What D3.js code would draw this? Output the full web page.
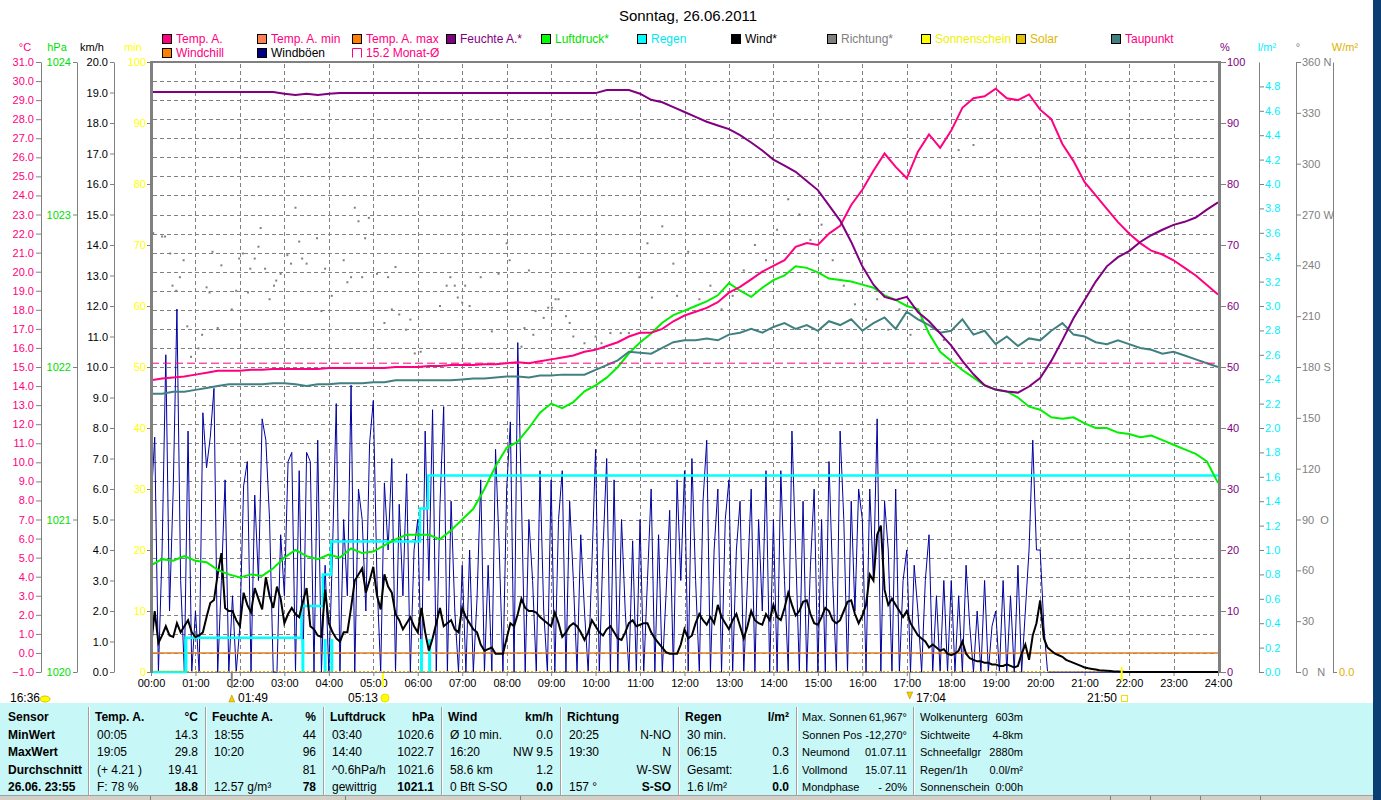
<!DOCTYPE html>
<html>
<head>
<meta charset="UTF-8">
<title>Sonntag, 26.06.2011</title>
<script src="https://d3js.org/d3.v7.min.js"></script>
<style>
  body { margin: 0; background: #fff; }
  svg { display: block; font-family: "Liberation Sans", Arial, sans-serif; }
</style>
</head>
<body>
<svg width="1381" height="800"></svg>
<script>
// ---------- data ----------
var hourLabels = ["00:00","01:00","02:00","03:00","04:00","05:00","06:00","07:00","08:00","09:00","10:00","11:00",
  "12:00","13:00","14:00","15:00","16:00","17:00","18:00","19:00","20:00","21:00","22:00","23:00","24:00"];

// 15-minute values, 00:00 .. 24:00
var tempA = [
  14.3,14.4,14.45,14.5,14.6,14.7,14.8,14.8,14.8,14.85,14.85,14.9,
  14.9,14.9,14.9,14.9,14.95,14.95,14.95,14.95,14.95,14.95,15.0,15.0,
  15.0,15.05,15.05,15.1,15.1,15.1,15.15,15.15,15.2,15.25,15.2,15.3,
  15.4,15.5,15.6,15.8,15.9,16.1,16.3,16.6,16.8,16.8,17.0,17.4,
  17.7,17.9,18.1,18.4,18.9,19.2,19.6,20.0,20.3,20.6,21.3,21.5,
  21.4,22.0,22.4,23.5,24.3,25.3,26.2,25.5,24.9,26.3,27.2,26.5,
  27.4,28.6,29.1,29.2,29.6,29.1,29.0,29.3,28.5,28.0,26.7,25.8,
  24.7,24.0,23.3,22.6,22.0,21.5,21.1,20.9,20.6,20.2,19.8,19.3,18.8];

var taupunkt = [
  13.6,13.6,13.7,13.7,13.8,13.9,14.0,14.1,14.1,14.1,14.1,14.15,
  14.15,14.1,14.0,14.1,14.1,14.15,14.15,14.15,14.2,14.2,14.3,14.3,
  14.3,14.3,14.3,14.3,14.35,14.4,14.4,14.45,14.5,14.5,14.45,14.55,
  14.55,14.6,14.6,14.6,14.85,15.1,15.35,15.8,15.75,15.7,16.0,16.3,
  16.4,16.4,16.5,16.4,16.7,16.8,17.0,16.8,17.1,17.3,17.0,17.2,
  16.9,17.4,17.2,17.5,16.9,17.3,17.6,17.0,17.9,17.5,17.2,16.8,
  16.9,17.5,16.7,16.9,16.2,16.6,16.1,16.5,16.4,16.9,17.3,16.7,
  16.6,16.3,16.2,16.4,16.2,16.0,15.9,15.7,15.8,15.6,15.4,15.2,15.0];

var feuchte = [
  95.1,95.1,95.1,95.1,95.1,95.1,95.1,95.1,95.1,95.1,95.1,95.1,
  94.8,94.6,94.8,94.6,94.8,94.9,94.9,94.9,94.9,94.9,94.9,94.9,
  94.9,94.9,94.9,94.9,94.9,94.9,94.9,94.9,94.9,94.9,94.9,94.9,
  94.9,94.9,94.9,94.9,94.9,95.4,95.4,95.4,94.8,93.8,93.4,92.6,
  91.8,91.0,90.2,89.6,89.0,88.0,86.8,85.5,84.0,83.0,82.0,80.5,
  79.0,76.5,74.0,70.5,66.5,63.5,61.5,61.0,61.5,59.0,57.5,55.5,
  53.5,51.0,48.8,47.0,46.3,46.0,45.8,46.8,48.2,51.0,54.4,58.0,
  61.0,64.0,66.5,68.0,69.0,70.5,71.6,72.5,73.3,73.8,74.5,75.8,77.0];

var luftdruck = [
  1020.70,1020.74,1020.73,1020.76,1020.73,1020.72,1020.67,1020.64,1020.62,1020.64,1020.63,1020.68,
  1020.75,1020.80,1020.76,1020.74,1020.77,1020.75,1020.81,1020.78,1020.79,1020.83,1020.87,1020.90,
  1020.90,1020.90,1020.87,1020.93,1021.00,1021.07,1021.20,1021.35,1021.47,1021.51,1021.60,1021.70,
  1021.76,1021.73,1021.77,1021.84,1021.88,1021.93,1022.00,1022.09,1022.16,1022.22,1022.29,1022.34,
  1022.37,1022.40,1022.43,1022.47,1022.55,1022.50,1022.46,1022.52,1022.57,1022.60,1022.66,1022.65,
  1022.62,1022.58,1022.57,1022.56,1022.54,1022.52,1022.47,1022.44,1022.40,1022.38,1022.22,1022.10,
  1022.04,1021.98,1021.93,1021.88,1021.85,1021.84,1021.80,1021.74,1021.72,1021.67,1021.66,1021.67,
  1021.63,1021.60,1021.60,1021.57,1021.56,1021.54,1021.55,1021.52,1021.49,1021.46,1021.43,1021.38,1021.24];

// 5-minute values, 00:00 .. 24:00 (km/h)
var wind = [
  0.8,2.0,0.95,1.2,1.5,1.2,1.15,1.6,1.3,1.5,1.7,1.3,
  1.15,1.2,1.3,1.8,2.26,2.36,3.2,3.9,2.1,2.0,2.0,1.7,
  1.5,2.6,2.2,1.95,2.75,2.4,2.05,3.1,2.5,2.1,2.8,2.4,
  1.6,1.9,2.1,1.9,1.8,2.3,2.75,1.5,1.4,1.2,1.15,2.7,
  1.6,1.3,1.1,1.0,1.3,1.3,2.1,3.0,3.2,3.4,2.6,3.0,
  3.45,2.5,2.05,3.2,2.8,2.6,1.9,1.7,1.4,1.6,1.8,1.5,
  1.3,2.1,1.3,0.7,1.1,1.6,2.1,1.5,1.6,1.7,1.4,1.3,
  2.1,1.8,1.6,1.4,1.3,0.9,0.7,0.75,0.8,0.6,0.6,0.6,
  1.1,1.6,1.5,1.9,2.4,2.1,2.0,2.0,1.95,1.8,1.7,1.6,
  1.5,1.95,1.6,1.15,1.3,1.5,1.6,1.5,1.3,1.05,1.3,1.7,
  1.5,1.3,1.2,1.4,1.5,1.3,1.1,1.05,1.3,1.6,1.7,1.5,
  1.55,1.6,1.6,1.3,1.1,0.95,0.8,0.65,0.6,0.6,0.6,0.9,
  1.4,1.1,1.2,1.6,1.9,1.7,1.55,1.8,1.6,2.2,1.8,1.6,
  1.4,1.7,1.9,1.5,1.1,1.5,2.0,1.7,1.6,1.55,1.9,1.7,
  2.2,1.8,1.7,2.1,2.6,2.2,1.85,2.0,2.3,2.35,1.9,1.6,
  1.55,1.8,2.1,2.0,1.7,1.6,1.7,2.0,2.3,2.35,1.9,1.6,
  1.85,2.2,3.2,3.0,4.5,4.8,2.7,2.2,2.4,2.2,2.0,1.8,
  2.0,1.6,1.4,1.2,1.1,1.0,0.8,0.9,0.8,0.7,0.75,0.6,
  0.55,0.6,0.7,1.0,0.6,0.45,0.4,0.35,0.35,0.3,0.3,0.25,
  0.25,0.2,0.2,0.25,0.2,0.15,0.2,0.6,0.9,0.4,1.2,1.6,
  2.35,1.1,0.8,0.7,0.6,0.55,0.5,0.4,0.35,0.3,0.25,0.2,
  0.15,0.12,0.1,0.08,0.06,0.05,0.04,0.03,0.02,0.02,0.01,0,
  0,0,0,0,0,0,0,0,0,0,0,0,
  0,0,0,0,0,0,0,0,0,0,0,0,
  0];

var windboeen = [
  5.5,7.7,0,4.0,10.4,2.0,6.0,11.9,3.0,0,7.9,0,
  2.0,0,8.5,6.7,7.7,9.3,0,3.0,6.3,0,2.5,0,
  1.5,6.1,6.9,0,5.8,3.0,8.3,7.6,5.0,0,0,4.5,
  2.5,6.9,7.2,0,6.6,0,7.2,6.9,0,7.6,0,3.5,
  0,4.0,8.8,0,5.0,2.5,9.4,0,6.0,5.0,2.0,7.5,
  8.9,3.0,0,6.2,4.0,7.0,0,5.5,2.5,6.5,0,4.0,
  5.0,0,7.9,3.0,8.6,0,5.5,8.7,0,5.6,2.0,0,
  3.5,0,4.0,0,2.4,6.3,0,3.5,0,7.3,4.0,0,
  6.0,8.2,0,10.8,5.6,0,5.0,3.0,0,6.6,2.0,0,
  6.3,0,5.0,6.6,0,5.6,3.0,0,4.5,2.0,0,3.5,
  7.3,0,4.0,7.0,0,6.3,0,5.0,2.0,0,4.3,0,
  5.0,0,3.0,6.0,0,4.5,0,2.5,5.3,0,6.3,3.0,
  6.6,0,7.0,3.0,0,5.6,7.6,0,4.0,6.0,0,5.0,
  6.3,0,4.0,5.6,0,3.0,6.0,0,5.0,2.0,6.6,0,
  5.0,0,6.6,3.0,0,7.9,4.0,0,5.6,0,3.5,6.0,
  0,5.0,0,6.9,3.0,0,7.9,5.0,0,5.6,2.0,6.0,
  5.0,0,6.0,3.0,8.3,0,5.6,4.0,0,6.0,0,3.0,
  4.0,0,3.5,2.0,0,3.0,4.5,0,2.5,0,3.0,0,
  3.0,0,2.5,0,3.5,1.5,0,2.0,0,3.0,0,1.5,
  2.0,0,3.0,0,2.5,0,3.5,0,2.0,4.0,7.6,4.0,
  4.0,1.5,0,0,0,0,0,0,0,0,0,0,
  0,0,0,0,0,0,0,0,0,0,0,0,
  0,0,0,0,0,0,0,0,0,0,0,0,
  0,0,0,0,0,0,0,0,0,0,0,0,
  0];

// rain total (l/m²), step after each time
var regenTimes = ["00:00","00:47","03:23","03:52","04:03","06:03","06:14","24:00"];
var regenTotal = [0, 0.28, 0.54, 0.80, 1.07, 1.34, 1.61, 1.61];
var regenTipTimes = ["00:47","03:25","03:55","04:04","06:05","06:16"];
var regenTip = 0.27;

// wind direction samples: minute of day, degrees
var richtungMin = [3,15,19,26,29,34,39,44,49,54,64,69,75,79,83,90,95,109,115,119,124,131,134,140,145,148,154,160,166,169,175,
  184,189,195,200,204,210,224,230,235,244,260,265,270,275,280,285,289,294,305,315,320,325,330,335,344,350,356,364,390,399,
  404,410,414,420,424,430,445,460,469,480,484,500,504,510,516,519,530,536,541,546,550,560,565,570,585,600,608,620,634,645,
  659,670,676,690,705,710,725,740,755,770,785,800,815,830,845,860,875,890,905,920,935,950,965,980,995,1010,1025,1040,1070,1090,1110];
var richtungDeg = [259,257,257,247,228,225,233,243,204,186,191,199,227,224,248,203,240,214,225,244,247,224,238,244,251,262,238,220,228,231,235,
  246,241,274,254,244,241,256,213,238,222,243,230,233,274,266,233,256,268,235,206,233,214,239,211,202,208,188,189,216,228,
  233,228,221,218,228,216,233,201,235,253,243,192,203,237,199,213,209,215,215,220,220,210,206,198,194,198,194,200,200,200,
  233,253,221,263,241,222,248,220,228,214,222,237,252,243,261,279,270,255,264,243,228,217,208,220,202,214,199,208,196,308,311];

var windchill = [0, 0];
var windchillTimes = ["00:00","24:00"];
var monatMittel = 15.2;

var degreeLabels = {0:"0\u00a0\u00a0\u00a0N", 90:"90\u00a0\u00a0O", 180:"180 S", 270:"270 W", 360:"360 N"};

// ---------- drawing ----------
var svg = d3.select("svg");
var F = "Liberation Sans, Arial, sans-serif";
function tm(s){ var p = s.split(":"); return (+p[0]) * 60 + (+p[1]); }

svg.append("rect").attr("width", 1381).attr("height", 800).attr("fill", "#fff");

var x  = d3.scaleLinear().domain([0, 1440]).range([151, 1218]);
var yT = d3.scaleLinear().domain([-1, 31]).range([672, 62]);
var yP = d3.scaleLinear().domain([1020, 1024]).range([672, 62]);
var yW = d3.scaleLinear().domain([0, 20]).range([672, 62]);
var yM = d3.scaleLinear().domain([0, 100]).range([672, 62]);
var yH = d3.scaleLinear().domain([0, 100]).range([672, 62]);
var yR = d3.scaleLinear().domain([0, 5]).range([672, 62]);
var yD = d3.scaleLinear().domain([0, 360]).range([672, 62]);

// title
svg.append("text").attr("x", 688).attr("y", 21).attr("text-anchor", "middle")
  .attr("font-family", F).attr("font-size", 15).text("Sonntag, 26.06.2011");

// legend
var legend = [
  {x:162, r:0, sw:"#ff0080", tc:"#ff0080", t:"Temp. A."},
  {x:257, r:0, sw:"#ff8050", tc:"#ff0080", t:"Temp. A. min"},
  {x:352, r:0, sw:"#ff8000", tc:"#ff0080", t:"Temp. A. max"},
  {x:446, r:0, sw:"#800080", tc:"#800080", t:"Feuchte A.*"},
  {x:541, r:0, sw:"#00ff00", tc:"#00e000", t:"Luftdruck*"},
  {x:637, r:0, sw:"#00ffff", tc:"#00e8f0", t:"Regen"},
  {x:731, r:0, sw:"#000000", tc:"#000000", t:"Wind*"},
  {x:827, r:0, sw:"#808080", tc:"#808080", t:"Richtung*"},
  {x:921, r:0, sw:"#ffff00", tc:"#f0f000", t:"Sonnenschein"},
  {x:1016, r:0, sw:"#e0c000", tc:"#e0b800", t:"Solar"},
  {x:1111, r:0, sw:"#408080", tc:"#ff0080", t:"Taupunkt"},
  {x:162, r:1, sw:"#ff8000", tc:"#ff0080", t:"Windchill"},
  {x:257, r:1, sw:"#000080", tc:"#000000", t:"Windböen"},
  {x:352, r:1, sw:null, tc:"#ff0080", t:"15.2 Monat-Ø"}
];
var lg = svg.append("g").attr("font-family", F).attr("font-size", 12);
legend.forEach(function(d) {
  var y0 = d.r ? 48 : 34;
  if (d.sw) {
    lg.append("rect").attr("x", d.x + 0.5).attr("y", y0 + 0.5).attr("width", 9).attr("height", 9)
      .attr("fill", d.sw).attr("stroke", "#000");
  } else {
    lg.append("path").attr("d", "M" + (d.x + 0.5) + "," + (y0 + 9.5) + "V" + (y0 + 0.5) + "H" + (d.x + 9.5) + "V" + (y0 + 9.5))
      .attr("fill", "none").attr("stroke", "#ff0080");
  }
  lg.append("text").attr("x", d.x + 14).attr("y", y0 + 9).attr("fill", d.tc).text(d.t);
});

// axis headers
var heads = [
  {x:25, t:"°C", c:"#ff0080"}, {x:57, t:"hPa", c:"#00e000"}, {x:92, t:"km/h", c:"#000"},
  {x:133, t:"min", c:"#ffff00"}, {x:1225, t:"%", c:"#800080"}, {x:1267, t:"l/m²", c:"#00f0ff"},
  {x:1298, t:"°", c:"#808080"}, {x:1345, t:"W/m²", c:"#e0b000"}
];
svg.append("g").attr("font-family", F).attr("font-size", 11).selectAll("text").data(heads).enter()
  .append("text").attr("x", function(d){ return d.x; }).attr("y", 51).attr("text-anchor", "middle")
  .attr("fill", function(d){ return d.c; }).text(function(d){ return d.t; });

// grid
var grid = svg.append("g").attr("stroke", "#808080").attr("stroke-dasharray", "4,3").attr("shape-rendering", "crispEdges");
grid.selectAll("line.h").data(d3.range(0, 31)).enter().append("line")
  .attr("x1", 153).attr("x2", 1217).attr("y1", function(d){ return Math.round(yT(d)) + 0.5; })
  .attr("y2", function(d){ return Math.round(yT(d)) + 0.5; });
grid.selectAll("line.v").data(d3.range(60, 1440, 60)).enter().append("line")
  .attr("y1", 64).attr("y2", 671).attr("x1", function(d){ return Math.round(x(d)) + 0.5; })
  .attr("x2", function(d){ return Math.round(x(d)) + 0.5; });

function styleAxis(g, color, hideDomain) {
  g.attr("font-family", F).attr("font-size", 11);
  g.select(".domain").attr("stroke", "#808080").attr("display", hideDomain ? "none" : null);
  g.selectAll(".tick line").attr("stroke", "#808080");
  g.selectAll(".tick text").attr("fill", color);
}

// left axes
styleAxis(svg.append("g").attr("transform", "translate(41,0)")
  .call(d3.axisLeft(yT).tickValues(d3.range(-1, 32)).tickFormat(d3.format(".1f")).tickSize(5).tickSizeOuter(0).tickPadding(2)), "#ff0080");
styleAxis(svg.append("g").attr("transform", "translate(77,0)")
  .call(d3.axisLeft(yP).tickValues([1020, 1021, 1022, 1023, 1024]).tickFormat(d3.format("d")).tickSize(4).tickSizeOuter(0).tickPadding(2)), "#00e000");
styleAxis(svg.append("g").attr("transform", "translate(114,0)")
  .call(d3.axisLeft(yW).tickValues(d3.range(0, 21)).tickFormat(d3.format(".1f")).tickSize(4).tickSizeOuter(0).tickPadding(2)), "#000");
styleAxis(svg.append("g").attr("transform", "translate(151,0)")
  .call(d3.axisLeft(yM).tickValues(d3.range(0, 101, 10)).tickFormat(d3.format("d")).tickSize(4).tickSizeOuter(0).tickPadding(1)), "#ffff00", true);

// right axes
styleAxis(svg.append("g").attr("transform", "translate(1221,0)")
  .call(d3.axisRight(yH).tickValues(d3.range(0, 101, 10)).tickFormat(d3.format("d")).tickSize(5).tickSizeOuter(0).tickPadding(1)), "#800080", true);
styleAxis(svg.append("g").attr("transform", "translate(1259,0)")
  .call(d3.axisRight(yR).tickValues(d3.range(0, 25).map(function(i){ return i * 0.2; })).tickFormat(d3.format(".1f")).tickSize(5).tickSizeOuter(0).tickPadding(1)), "#00f0ff");
styleAxis(svg.append("g").attr("transform", "translate(1296,0)")
  .call(d3.axisRight(yD).tickValues(d3.range(0, 361, 30)).tickFormat(function(d){ return degreeLabels[d] || d; }).tickSize(5).tickSizeOuter(0).tickPadding(1)), "#808080");
styleAxis(svg.append("g").attr("transform", "translate(1333,0)")
  .call(d3.axisRight(d3.scaleLinear().domain([0, 1]).range([672, 62])).tickValues([0]).tickSize(4).tickSizeOuter(0).tickPadding(2)), "#e0b000");

// x axis
styleAxis(svg.append("g").attr("transform", "translate(0,672)")
  .call(d3.axisBottom(x).tickValues(d3.range(0, 1441, 60)).tickFormat(function(d, i){ return hourLabels[i]; }).tickSize(4).tickSizeOuter(0).tickPadding(3)), "#000");

// ---------- series ----------
var t15 = tempA.map(function(d, i){ return i * 15; });
var t5 = wind.map(function(d, i){ return i * 5; });
var plot = svg.append("g");

function series(values, times, yScale, color, width, dash) {
  var line = d3.line().x(function(d, i){ return x(times[i]); }).y(function(d){ return yScale(d); });
  var p = plot.append("path").datum(values).attr("d", line).attr("fill", "none")
    .attr("stroke", color).attr("stroke-width", width);
  if (dash) p.attr("stroke-dasharray", dash);
  return p;
}

// wind direction dots
plot.selectAll("rect.dir").data(richtungDeg).enter().append("rect")
  .attr("x", function(d, i){ return x(richtungMin[i]) - 1; }).attr("y", function(d){ return yD(d) - 1; })
  .attr("width", 2).attr("height", 2).attr("fill", "#808080");

series(windboeen, t5, yW, "#0000a0", 1);
series(windchill, windchillTimes.map(tm), yT, "#e08028", 1.5);

// rain
plot.selectAll("line.tip").data(regenTipTimes).enter().append("line")
  .attr("x1", function(d){ return x(tm(d)); }).attr("x2", function(d){ return x(tm(d)); })
  .attr("y1", yR(0)).attr("y2", yR(regenTip)).attr("stroke", "#00ffff").attr("stroke-width", 3);
plot.append("path").datum(regenTotal)
  .attr("d", d3.line().curve(d3.curveStepAfter).x(function(d, i){ return x(tm(regenTimes[i])); }).y(function(d){ return yR(d); }))
  .attr("fill", "none").attr("stroke", "#00ffff").attr("stroke-width", 2.5);

// solar / sunshine baseline
plot.append("line").attr("x1", x(0)).attr("x2", x(1440)).attr("y1", 671.5).attr("y2", 671.5)
  .attr("stroke", "#e0b000").attr("stroke-dasharray", "2,2");

series(wind, t5, yW, "#000", 2);
series(luftdruck, t15, yP, "#00f000", 2);
series(taupunkt, t15, yT, "#408080", 2);
plot.append("line").attr("x1", x(0)).attr("x2", x(1440)).attr("y1", yT(monatMittel)).attr("y2", yT(monatMittel))
  .attr("stroke", "#ff0080").attr("stroke-dasharray", "8,4");
series(tempA, t15, yT, "#ff0080", 2);
series(feuchte, t15, yH, "#800080", 2);

// frame
var fr = svg.append("g").attr("stroke", "#808080").attr("shape-rendering", "crispEdges");
fr.append("line").attr("x1", 151.5).attr("x2", 151.5).attr("y1", 61).attr("y2", 673).attr("stroke-width", 3);
fr.append("line").attr("x1", 150).attr("x2", 1221).attr("y1", 62).attr("y2", 62).attr("stroke-width", 2);
fr.append("line").attr("x1", 1219.5).attr("x2", 1219.5).attr("y1", 61).attr("y2", 673).attr("stroke-width", 3);

// sun / moon events under the axis
var ev = svg.append("g").attr("font-family", F).attr("font-size", 12);
ev.append("line").attr("x1", x(tm("01:49"))).attr("x2", x(tm("01:49"))).attr("y1", 673).attr("y2", 688).attr("stroke", "#808080").attr("stroke-width", 2);
ev.append("line").attr("x1", x(tm("05:13"))).attr("x2", x(tm("05:13"))).attr("y1", 673).attr("y2", 687).attr("stroke", "#ffff00").attr("stroke-width", 2);
ev.append("line").attr("x1", x(tm("17:04"))).attr("x2", x(tm("17:04"))).attr("y1", 673).attr("y2", 685).attr("stroke", "#808080").attr("stroke-width", 1);
ev.append("line").attr("x1", x(tm("21:50"))).attr("x2", x(tm("21:50"))).attr("y1", 667).attr("y2", 681).attr("stroke", "#ffff00").attr("stroke-width", 2);
ev.append("text").attr("x", 10).attr("y", 702).text("16:36");
ev.append("ellipse").attr("cx", 45).attr("cy", 699).attr("rx", 5).attr("ry", 3).attr("fill", "#ffff00").attr("stroke", "#e0c000");
ev.append("path").attr("d", "M" + (x(tm("01:49")) - 3) + ",702 l3,-7 l3,7z").attr("fill", "#f0d000").attr("stroke", "#a08000").attr("stroke-width", 0.5);
ev.append("text").attr("x", 238).attr("y", 702).text("01:49");
ev.append("text").attr("x", 378).attr("y", 702).attr("text-anchor", "end").text("05:13");
ev.append("circle").attr("cx", 385).attr("cy", 698).attr("r", 4).attr("fill", "#ffff00").attr("stroke", "#f0e000");
ev.append("path").attr("d", "M" + (x(tm("17:04")) - 3) + ",692 l3,7 l3,-7z").attr("fill", "#f0d000").attr("stroke", "#a08000").attr("stroke-width", 0.5);
ev.append("text").attr("x", 916).attr("y", 702).text("17:04");
ev.append("text").attr("x", 1117).attr("y", 702).attr("text-anchor", "end").text("21:50");
ev.append("rect").attr("x", 1121.5).attr("y", 695.5).attr("width", 6).attr("height", 6).attr("fill", "none").attr("stroke", "#f0e000");

// ---------- summary table ----------
var rowsY = [721, 739, 756, 774, 791];
var seps = [88, 205, 323, 441, 560, 678, 796, 913];
var tableCols = [
  {h:["Temp. A.", "°C"], l:["00:05","19:05","(+ 4.21 )","F: 78 %"], r:["14.3","29.8","19.41","18.8"]},
  {h:["Feuchte A.", "%"], l:["18:55","10:20","","12.57 g/m³"], r:["44","96","81","78"]},
  {h:["Luftdruck", "hPa"], l:["03:40","14:40","^0.6hPa/h","gewittrig"], r:["1020.6","1022.7","1021.6","1021.1"]},
  {h:["Wind", "km/h"], l:["Ø 10 min.","16:20","58.6 km","0 Bft S-SO"], r:["0.0","NW 9.5","1.2","0.0"]},
  {h:["Richtung", ""], l:["20:25","19:30","","157 °"], r:["N-NO","N","W-SW","S-SO"]},
  {h:["Regen", "l/m²"], l:["30 min.","06:15","Gesamt:","1.6 l/m²"], r:["","0.3","1.6","0.0"]}
];
var sensorRows = ["Sensor","MinWert","MaxWert","Durchschnitt","26.06. 23:55"];
var infoLeft1 = ["Max. Sonnen","Sonnen Pos","Neumond","Vollmond","Mondphase"];
var infoRight1 = ["61,967°","-12,270°","01.07.11","15.07.11","- 20%"];
var infoLeft2 = ["Wolkenunterg","Sichtweite","Schneefallgr","Regen/1h","Sonnenschein"];
var infoRight2 = ["603m","4-8km","2880m","0.0l/m²","0:00h"];

var tb = svg.append("g").attr("font-family", F).attr("font-size", 12);
tb.append("rect").attr("x", 0).attr("y", 703).attr("width", 1373).attr("height", 92).attr("fill", "#c8f7f7");
seps.forEach(function(s) {
  tb.append("line").attr("x1", s + 0.5).attr("x2", s + 0.5).attr("y1", 707).attr("y2", 795).attr("stroke", "#a0a0a0").attr("shape-rendering", "crispEdges");
  tb.append("line").attr("x1", s + 1.5).attr("x2", s + 1.5).attr("y1", 707).attr("y2", 795).attr("stroke", "#ffffff").attr("shape-rendering", "crispEdges");
});
sensorRows.forEach(function(t, i) {
  tb.append("text").attr("x", 8).attr("y", rowsY[i]).attr("font-weight", "bold").text(t);
});
tableCols.forEach(function(c, k) {
  var lx = seps[k] + 7, rx = seps[k + 1] - 7;
  tb.append("text").attr("x", lx).attr("y", rowsY[0]).attr("font-weight", "bold").text(c.h[0]);
  tb.append("text").attr("x", rx).attr("y", rowsY[0]).attr("text-anchor", "end").attr("font-weight", "bold").text(c.h[1]);
  c.l.forEach(function(t, i) {
    tb.append("text").attr("x", lx + 2).attr("y", rowsY[i + 1]).text(t);
  });
  c.r.forEach(function(t, i) {
    tb.append("text").attr("x", rx).attr("y", rowsY[i + 1]).attr("text-anchor", "end")
      .attr("font-weight", i === 3 ? "bold" : null).text(t);
  });
});
var tb2 = tb.append("g").attr("font-size", 11);
infoLeft1.forEach(function(t, i) {
  tb2.append("text").attr("x", 802).attr("y", rowsY[i]).text(t);
  tb2.append("text").attr("x", 907).attr("y", rowsY[i]).attr("text-anchor", "end").text(infoRight1[i]);
});
infoLeft2.forEach(function(t, i) {
  tb2.append("text").attr("x", 920).attr("y", rowsY[i]).text(t);
  tb2.append("text").attr("x", 1023).attr("y", rowsY[i]).attr("text-anchor", "end").text(infoRight2[i]);
});

// status bar and window edge
svg.append("rect").attr("x", 0).attr("y", 795).attr("width", 1373).attr("height", 5).attr("fill", "#d4d0c8");
svg.append("line").attr("x1", 0).attr("x2", 1373).attr("y1", 795.5).attr("y2", 795.5).attr("stroke", "#a0a0a0");
[150, 345, 520, 1110, 1150, 1200, 1260].forEach(function(s) {
  svg.append("line").attr("x1", s + 0.5).attr("x2", s + 0.5).attr("y1", 796).attr("y2", 800).attr("stroke", "#808080");
});
svg.append("rect").attr("x", 1373).attr("y", 0).attr("width", 8).attr("height", 800).attr("fill", "#0b3f74");
</script>
</body>
</html>
